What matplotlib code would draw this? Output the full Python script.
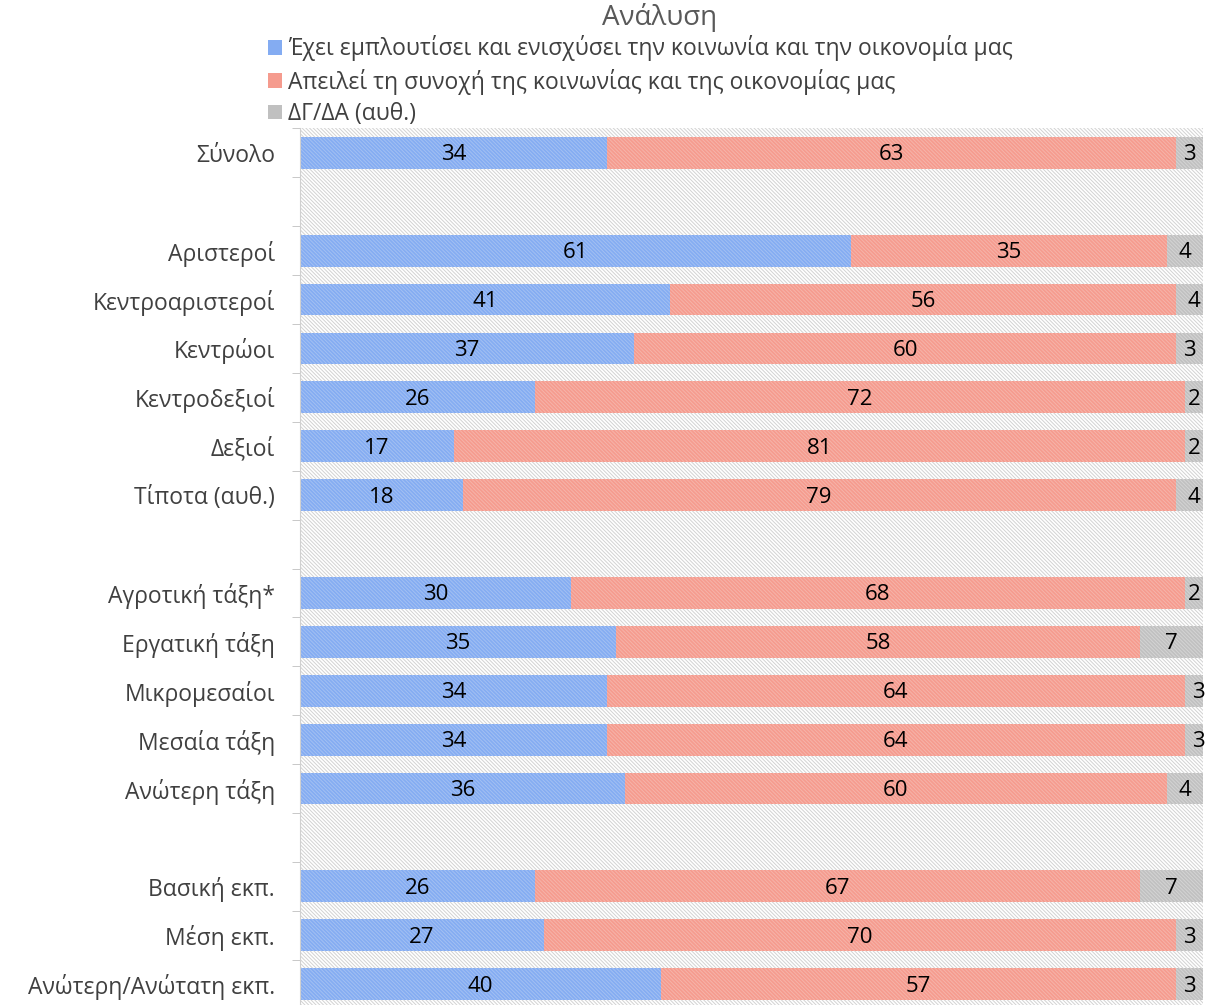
import numpy as np
import matplotlib.pyplot as plt
from matplotlib.patches import Rectangle, Patch

plt.rcParams['font.family'] = ['Open Sans', 'DejaVu Sans']
plt.rcParams['hatch.linewidth'] = 0.7

# rows, top to bottom ('' = empty spacer row)
categories = ['Σύνολο', '', 'Αριστεροί', 'Κεντροαριστεροί', 'Κεντρώοι', 'Κεντροδεξιοί',
              'Δεξιοί', 'Τίποτα (αυθ.)', '', 'Αγροτική τάξη*', 'Εργατική τάξη',
              'Μικρομεσαίοι', 'Μεσαία τάξη', 'Ανώτερη τάξη', '', 'Βασική εκπ.',
              'Μέση εκπ.', 'Ανώτερη/Ανώτατη εκπ.']
enriched = [34, None, 61, 41, 37, 26, 17, 18, None, 30, 35, 34, 34, 36, None, 26, 27, 40]
threat = [63, None, 35, 56, 60, 72, 81, 79, None, 68, 58, 64, 64, 60, None, 67, 70, 57]
dkna = [3, None, 4, 4, 3, 2, 2, 4, None, 2, 7, 3, 3, 4, None, 7, 3, 3]

series_names = ['Έχει εμπλουτίσει και ενισχύσει την κοινωνία και την οικονομία μας',
                'Απειλεί τη συνοχή της κοινωνίας και της οικονομίας μας',
                'ΔΓ/ΔΑ (αυθ.)']
colors = ['#84acf2', '#f59b8e', '#c0c0c0']
hatch_cols = ['#a3c0f2', '#f6b4aa', '#d4d4d4']
title = 'Ανάλυση'

fig = plt.figure(figsize=(12.08, 10.05), dpi=100)
ax = fig.add_axes([300 / 1208, 1 - 1008.5 / 1005, 903 / 1208, 880 / 1005])

# patterned background of plot area
ax.add_patch(Rectangle((0, 0), 1, 1, transform=ax.transAxes, facecolor='white',
                       edgecolor='#d2d2d2', hatch='\\' * 9, lw=0, zorder=0))

rows = [i for i, c in enumerate(categories) if c]
vals = [[enriched[i], threat[i], dkna[i]] for i in rows]
vals = np.array(vals, dtype=float)
left = np.zeros(len(rows))
for k in range(3):
    ax.barh(rows, vals[:, k], left=left, height=0.65, color=colors[k],
            edgecolor=hatch_cols[k], hatch='\\' * 9, lw=0, zorder=2)
    for r, l, v in zip(rows, left, vals[:, k]):
        ax.text(l + v / 2, r + 0.04, '%d' % v, ha='center', va='center', fontsize=16,
                color='black', zorder=3)
    left += vals[:, k]

ax.set_xlim(0, 100)
ax.set_ylim(len(categories) - 0.5, -0.5)
ax.set_xticks([])
ax.set_yticks(range(len(categories)))
ax.set_yticklabels(categories, fontsize=16.5, color='#404040')
ax.tick_params(axis='y', which='major', length=0, pad=18)
ax.set_yticks(np.arange(-0.5, len(categories), 1), minor=True)
ax.tick_params(axis='y', which='minor', length=6, color='#bfbfbf')
for s in ['top', 'right', 'bottom']:
    ax.spines[s].set_visible(False)
ax.spines['left'].set_color('#d0d0d0')
ax.spines['left'].set_zorder(4)

fig.text(660 / 1208, 1 - 18 / 1005, title, ha='center', va='center', fontsize=20,
         color='#595959')
handles = [Patch(facecolor=c) for c in colors]
fig.legend(handles, series_names, loc='upper left', bbox_to_anchor=(257 / 1208, 1 - 24 / 1005),
           frameon=False, fontsize=16.5, handlelength=0.6, handleheight=0.6,
           handletextpad=0.25, labelspacing=0.32, borderpad=0, labelcolor='#404040')

fig.savefig('out.png', dpi=100)
